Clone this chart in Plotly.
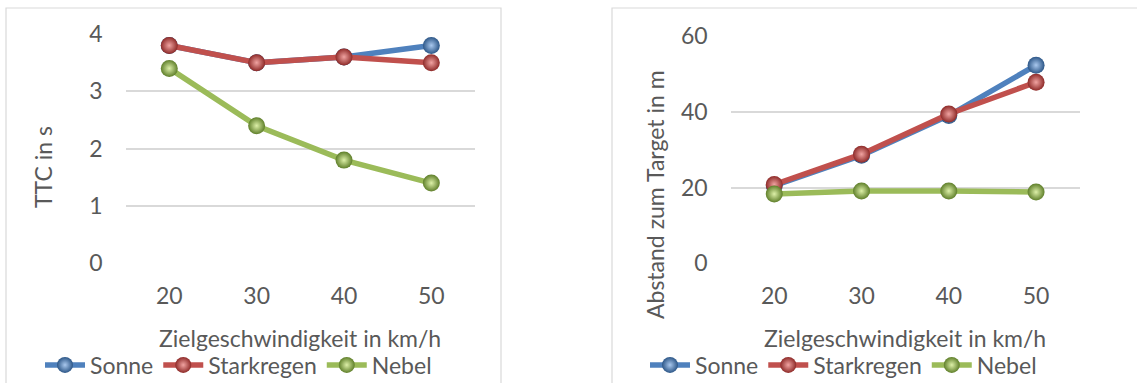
import plotly.graph_objects as go

# Target speeds (x categories)
speeds = ["20", "30", "40", "50"]

# Time to collision in s
ttc_sonne = [3.8, 3.5, 3.6, 3.8]
ttc_starkregen = [3.8, 3.5, 3.6, 3.5]
ttc_nebel = [3.4, 2.4, 1.8, 1.4]

# Distance to target in m
dist_sonne = [20.5, 28.5, 39.0, 52.3]
dist_starkregen = [20.8, 28.8, 39.4, 47.8]
dist_nebel = [18.3, 19.1, 19.1, 18.8]

series_names = ["Sonne", "Starkregen", "Nebel"]
line_colors = ["#4F81BD", "#C0504D", "#9BBB59"]
rim_colors = ["#2C5687", "#8E2A28", "#5F7F2A"]
glow_colors = ["#A9C8EE", "#F0A3A1", "#DDF0A8"]

W, H = 1137, 383
FONT = "Lato"
FS = 23
TXT = "#595959"
GRID = "#D9D9D9"

fig = go.Figure()

panels = [
    ([ttc_sonne, ttc_starkregen, ttc_nebel], "x", "y", "legend"),
    ([dist_sonne, dist_starkregen, dist_nebel], "x2", "y2", "legend2"),
]
for values, xa, ya, lg in panels:
    for i, name in enumerate(series_names):
        fig.add_trace(go.Scatter(
            x=speeds, y=values[i], name=name, mode="lines+markers",
            xaxis=xa, yaxis=ya, legend=lg, cliponaxis=False,
            line=dict(color=line_colors[i], width=5.5),
            marker=dict(size=17, color=rim_colors[i],
                        gradient=dict(type="radial", color=glow_colors[i]),
                        line=dict(width=0)),
        ))


def px(x):
    return x / W


def py(y):
    return 1 - y / H


axis_common = dict(type="category", range=[-0.5, 3.5], showgrid=False,
                   zeroline=False, showline=False, ticks="", automargin=False,
                   tickfont=dict(family=FONT, size=FS, color=TXT),
                   ticklabelstandoff=17)
yaxis_common = dict(showgrid=True, gridcolor=GRID, gridwidth=1.5,
                    zeroline=False, showline=False, ticks="", automargin=False,
                    tickfont=dict(family=FONT, size=FS, color=TXT),
                    ticklabelstandoff=22)

legend_common = dict(orientation="h", xanchor="left", yanchor="middle",
                     font=dict(family=FONT, size=FS, color=TXT),
                     itemwidth=40, bgcolor="rgba(0,0,0,0)")

fig.update_layout(
    width=W, height=H,
    margin=dict(l=0, r=0, t=0, b=0, autoexpand=False),
    paper_bgcolor="white", plot_bgcolor="white",
    xaxis=dict(domain=[px(125.6), px(475)], anchor="y", **axis_common),
    yaxis=dict(domain=[py(263.3), py(34)], range=[0, 4], dtick=1,
               anchor="x", **yaxis_common),
    xaxis2=dict(domain=[px(730.6), px(1079.7)], anchor="y2", **axis_common),
    yaxis2=dict(domain=[py(263.3), py(36)], range=[0, 60], dtick=20,
                anchor="x2", **yaxis_common),
    legend=dict(x=px(40), y=py(365), **legend_common),
    legend2=dict(x=px(645), y=py(365), **legend_common),
    showlegend=True,
)

# Chart area frames
fig.add_shape(type="rect", xref="paper", yref="paper",
              x0=px(6), x1=px(501), y0=py(390), y1=py(8),
              line=dict(color=GRID, width=1.2), layer="below")
fig.add_shape(type="rect", xref="paper", yref="paper",
              x0=px(612), x1=px(1145), y0=py(390), y1=py(8),
              line=dict(color=GRID, width=1.2), layer="below")

title_font = dict(family=FONT, size=FS, color=TXT)
fig.add_annotation(text="TTC in s", xref="paper", yref="paper",
                   x=px(43), y=py(167), textangle=-90, showarrow=False,
                   font=title_font, xanchor="center", yanchor="middle")
fig.add_annotation(text="Abstand zum Target in m", xref="paper", yref="paper",
                   x=px(655), y=py(195), textangle=-90, showarrow=False,
                   font=title_font, xanchor="center", yanchor="middle")
fig.add_annotation(text="Zielgeschwindigkeit in km/h", xref="paper", yref="paper",
                   x=px(300), y=py(338), showarrow=False,
                   font=title_font, xanchor="center", yanchor="middle")
fig.add_annotation(text="Zielgeschwindigkeit in km/h", xref="paper", yref="paper",
                   x=px(905), y=py(338), showarrow=False,
                   font=title_font, xanchor="center", yanchor="middle")

fig.write_html("out.html")
